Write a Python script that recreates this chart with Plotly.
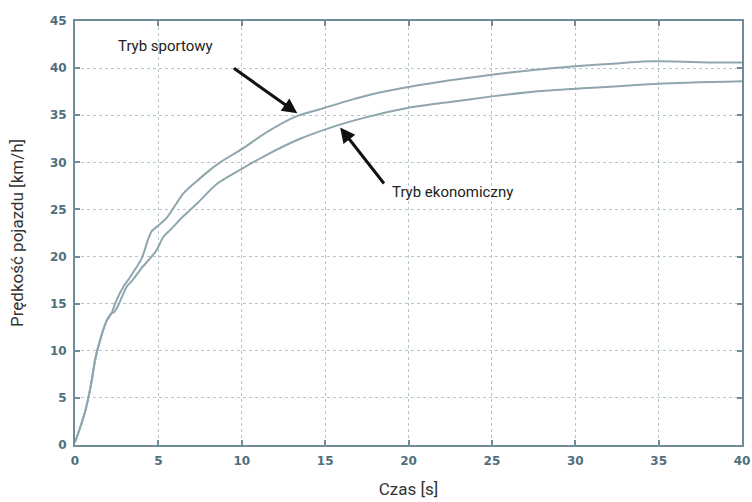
import plotly.graph_objects as go

# Time [s] and vehicle speed [km/h] for the two driving modes
t_sport = [0, 0.3, 0.6, 0.8, 1.0, 1.2, 1.5, 1.9, 2.2, 2.4, 2.9, 3.3, 4.0, 4.4, 4.6,
           5.0, 5.5, 6.5, 7.3, 8.1, 8.7, 10, 11.5, 13.3, 15, 16.5, 18, 20, 22.5,
           25, 27.5, 30, 32.5, 34, 36, 38, 40]
v_sport = [0.3, 1.8, 3.5, 5.0, 6.8, 9.0, 11.1, 13.2, 14.0, 15.0, 16.8, 17.8, 19.8, 21.9, 22.7,
           23.3, 24.1, 26.7, 28.0, 29.2, 30.0, 31.4, 33.2, 34.9, 35.8, 36.6, 37.3, 38.0, 38.7,
           39.3, 39.8, 40.2, 40.5, 40.7, 40.7, 40.6, 40.6]

t_eco = [0, 0.3, 0.6, 0.8, 1.0, 1.2, 1.5, 1.9, 2.2, 2.35, 2.6, 3.1, 3.5, 4.0, 4.5, 4.9,
         5.3, 5.7, 6.5, 7.3, 8.5, 9.9, 11.5, 13.5, 15.7, 17.5, 20, 22.5, 25, 27.5,
         30, 35, 40]
v_eco = [0.3, 1.8, 3.5, 5.0, 6.8, 9.0, 11.1, 13.2, 14.0, 14.1, 14.85, 16.8, 17.6, 18.8, 19.8, 20.7,
         22.1, 22.8, 24.3, 25.6, 27.7, 29.2, 30.8, 32.5, 33.9, 34.8, 35.8, 36.4, 37.0, 37.5,
         37.8, 38.35, 38.6]

x_ticks = [0, 5, 10, 15, 20, 25, 30, 35, 40]
y_ticks = [0, 5, 10, 15, 20, 25, 30, 35, 40, 45]

line_color = "#8fa6ae"
frame_color = "#6f8c98"
grid_color = "#b4c6ce"
tick_color = "#4f6f7d"

fig = go.Figure()
fig.add_trace(go.Scatter(x=t_sport, y=v_sport, mode="lines", name="Tryb sportowy",
                         line=dict(color=line_color, width=2, shape="spline", smoothing=0.6)))
fig.add_trace(go.Scatter(x=t_eco, y=v_eco, mode="lines", name="Tryb ekonomiczny",
                         line=dict(color=line_color, width=2, shape="spline", smoothing=0.6)))

axis_common = dict(
    showline=True, linecolor=frame_color, linewidth=2, mirror="ticks",
    ticks="inside", ticklen=5, tickcolor=frame_color, tickwidth=1.5,
    showgrid=True, gridcolor=grid_color, griddash="dot", gridwidth=1,
    zeroline=False, automargin=False, ticklabelstandoff=4,
    tickfont=dict(family="DejaVu Sans", size=12, color=tick_color, weight="bold"),
)

fig.update_xaxes(range=[0, 40], tickvals=x_ticks, ticktext=[str(v) for v in x_ticks],
                 title=dict(text="Czas [s]", font=dict(family="Roboto", size=17, color="#333"),
                            standoff=16),
                 **axis_common)
fig.update_yaxes(range=[0, 45], tickvals=y_ticks, ticktext=[str(v) for v in y_ticks],
                 title=dict(text="Prędkość pojazdu [km/h]",
                            font=dict(family="Roboto", size=17, color="#333"), standoff=22),
                 **axis_common)

# Labels with arrows pointing at each curve
fig.add_annotation(x=5.4, y=42.4, text="Tryb sportowy", showarrow=False,
                   font=dict(family="Roboto", size=15, color="#222"))
fig.add_annotation(x=13.33, y=35.2, ax=9.44, ay=40.1, axref="x", ayref="y",
                   text="", showarrow=True, arrowhead=2, arrowsize=1, arrowwidth=3,
                   arrowcolor="#111")
fig.add_annotation(x=18.9, y=26.8, text="Tryb ekonomiczny", showarrow=False,
                   xanchor="left", font=dict(family="Roboto", size=15, color="#222"))
fig.add_annotation(x=15.9, y=33.7, ax=18.6, ay=27.6, axref="x", ayref="y",
                   text="", showarrow=True, arrowhead=2, arrowsize=1, arrowwidth=3,
                   arrowcolor="#111")

fig.update_layout(
    width=752, height=502,
    margin=dict(l=75, r=10, t=21, b=57),
    paper_bgcolor="white", plot_bgcolor="white",
    showlegend=False,
)

fig.write_html("out.html")
